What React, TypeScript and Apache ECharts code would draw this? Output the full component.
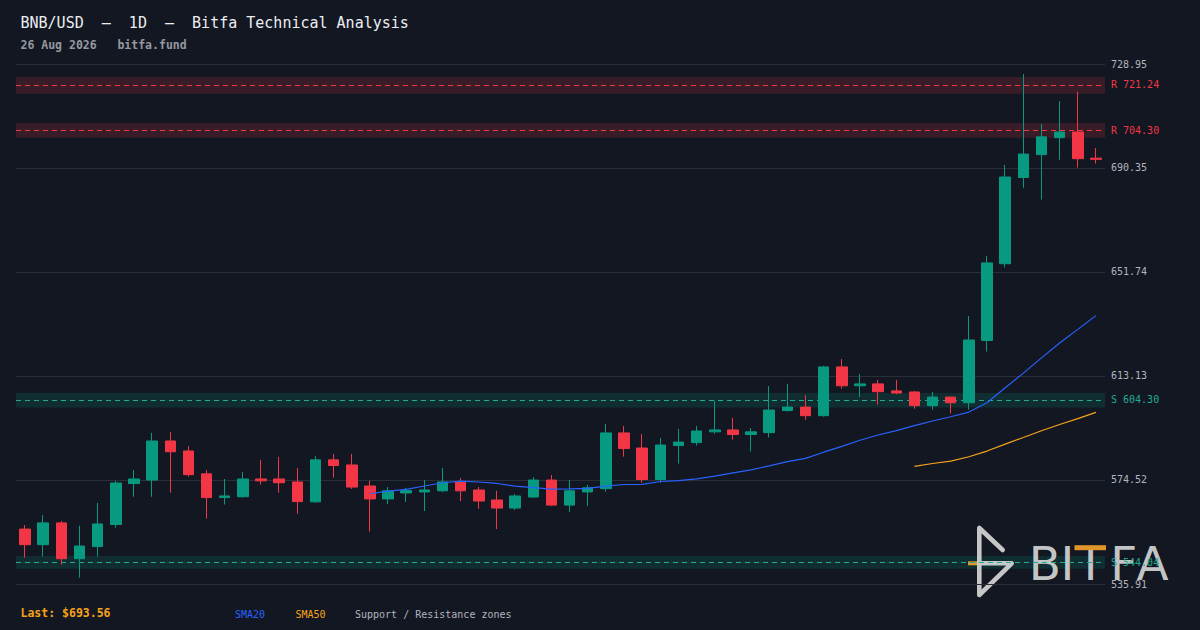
import React, { useEffect, useRef } from "react";
import * as echarts from "echarts";

const categories = [
  "2026-06-28", "2026-06-29", "2026-06-30",
  "2026-07-01", "2026-07-02", "2026-07-03", "2026-07-04", "2026-07-05", "2026-07-06", "2026-07-07",
  "2026-07-08", "2026-07-09", "2026-07-10", "2026-07-11", "2026-07-12", "2026-07-13", "2026-07-14",
  "2026-07-15", "2026-07-16", "2026-07-17", "2026-07-18", "2026-07-19", "2026-07-20", "2026-07-21",
  "2026-07-22", "2026-07-23", "2026-07-24", "2026-07-25", "2026-07-26", "2026-07-27", "2026-07-28",
  "2026-07-29", "2026-07-30", "2026-07-31",
  "2026-08-01", "2026-08-02", "2026-08-03", "2026-08-04", "2026-08-05", "2026-08-06", "2026-08-07",
  "2026-08-08", "2026-08-09", "2026-08-10", "2026-08-11", "2026-08-12", "2026-08-13", "2026-08-14",
  "2026-08-15", "2026-08-16", "2026-08-17", "2026-08-18", "2026-08-19", "2026-08-20", "2026-08-21",
  "2026-08-22", "2026-08-23", "2026-08-24", "2026-08-25", "2026-08-26",
];

const openPrices = [
  556.3, 550.5, 558.6, 545.3, 549.8, 558.0, 573.2, 574.5, 589.0, 585.3,
  576.8, 568.0, 568.3, 574.9, 574.9, 573.8, 566.4, 582.0, 580.1, 572.3,
  567.5, 569.7, 570.1, 570.5, 573.8, 570.8, 567.1, 564.1, 568.2, 574.5,
  565.2, 570.1, 571.3, 592.0, 586.4, 574.7, 587.3, 588.4, 592.4, 593.1,
  591.4, 592.1, 600.3, 601.6, 598.4, 616.5, 609.5, 610.2, 607.6, 607.2,
  602.1, 605.3, 603.2, 626.3, 654.8, 686.8, 695.3, 701.6, 703.7, 694.0,
];
const closePrices = [
  550.5, 558.6, 545.3, 550.0, 558.2, 573.4, 574.9, 589.0, 585.0, 576.5,
  568.0, 568.6, 574.9, 574.2, 573.5, 566.5, 582.0, 579.9, 571.9, 567.5,
  570.5, 570.6, 570.8, 573.8, 570.5, 566.7, 564.1, 568.6, 574.5, 565.2,
  570.5, 571.6, 592.0, 586.2, 574.7, 587.5, 588.6, 592.7, 593.1, 591.4,
  592.4, 600.5, 601.6, 598.4, 616.5, 609.5, 610.2, 607.3, 606.8, 602.1,
  605.3, 603.2, 626.5, 655.1, 687.0, 695.5, 701.9, 703.7, 693.8, 693.56,
];
const lowPrices = [
  545.7, 546.1, 543.1, 538.3, 546.1, 556.8, 568.3, 568.3, 569.8, 575.8,
  560.2, 565.4, 568.0, 572.8, 569.8, 562.0, 566.0, 575.4, 571.2, 555.4,
  565.6, 566.4, 563.0, 570.1, 566.7, 563.8, 556.3, 563.4, 568.0, 564.9,
  562.7, 564.9, 570.2, 583.2, 573.5, 573.5, 580.6, 587.3, 591.7, 589.5,
  585.1, 590.3, 599.9, 596.9, 598.0, 608.4, 605.3, 602.5, 606.4, 601.0,
  600.6, 599.2, 600.6, 622.2, 653.4, 683.0, 678.6, 693.4, 690.5, 692.0,
];
const highPrices = [
  557.8, 561.5, 559.3, 557.5, 566.0, 574.2, 578.2, 592.0, 592.3, 587.1,
  578.2, 574.9, 577.5, 582.0, 583.1, 579.0, 583.4, 584.2, 584.2, 574.2,
  571.9, 571.6, 574.5, 579.0, 575.3, 571.9, 570.5, 569.3, 575.6, 576.4,
  574.5, 572.7, 595.3, 594.6, 591.6, 590.1, 593.5, 594.6, 603.9, 597.6,
  593.8, 609.4, 610.2, 606.1, 616.9, 619.4, 613.9, 611.7, 611.7, 607.6,
  607.2, 605.4, 635.4, 657.7, 691.5, 725.2, 706.7, 715.2, 718.6, 697.8,
];

// SMA values (first value at index 19 / 49)
const sma20Start = 19;
const sma20Values = [
  569.42, 570.42, 571.02, 572.30, 573.49, 574.10, 573.77, 573.23, 572.21, 571.68,
  571.12, 571.24, 571.39, 572.25, 572.85, 572.91, 573.96, 574.29, 574.93, 575.99,
  577.18, 578.28, 579.77, 581.31, 582.54, 584.84, 586.98, 589.29, 591.22, 592.84,
  594.68, 596.42, 598.00, 599.73, 603.17, 608.79, 614.19, 619.85, 625.40, 630.44,
  635.54,
];
const sma50Start = 49;
const sma50Values = [
  579.55, 580.64, 581.53, 583.16, 585.26, 587.84, 590.28, 592.82, 595.11, 597.29, 599.63,
];

const tickValues = [535.91, 574.52, 613.13, 651.74, 690.35, 728.95];

const zoneKinds = ["R", "R", "S", "S"];
const zoneLevels = [721.24, 704.3, 604.3, 544.04];
const zoneLows = [717.9, 701.6, 601.4, 541.6];
const zoneHighs = [724.1, 707.05, 606.8, 546.3];

const lastPrice = 693.56;

const BG = "#131722";
const UP = "#089981";
const DOWN = "#f23645";
const S_LINE = "#22ab94";
const GRID = "#2a2e39";
const AXIS_TEXT = "#b2b5be";
const BLUE = "#2962ff";
const ORANGE = "#f7a21b";
const MONO = '"DejaVu Sans Mono", monospace';
const LOGO = "#d6d6d6";
const LOGO_ORANGE = "#e0962b";

function pad(start: number, values: number[]) {
  const out: (number | null)[] = [];
  for (let i = 0; i < categories.length; i++) {
    out.push(i >= start && i - start < values.length ? values[i - start] : null);
  }
  return out;
}

function buildOption(): any {
  const candles = categories.map((_, i) => [
    openPrices[i],
    closePrices[i],
    lowPrices[i],
    highPrices[i],
  ]);

  const gridLines = tickValues.map((v) => ({
    yAxis: v,
    lineStyle: { color: GRID, type: "solid", width: 1 },
    label: { formatter: v.toFixed(2), color: AXIS_TEXT },
  }));

  const zoneLines = zoneLevels.map((lvl, i) => {
    const c = zoneKinds[i] === "R" ? DOWN : S_LINE;
    return {
      yAxis: lvl,
      lineStyle: { color: c, type: [5, 4], width: 1 },
      label: { formatter: `${zoneKinds[i]} ${lvl.toFixed(2)}`, color: c },
    };
  });

  const zoneAreas = zoneLevels.map((_, i) => [
    {
      yAxis: zoneLows[i],
      itemStyle: {
        color: zoneKinds[i] === "R" ? "rgba(242,54,69,0.17)" : "rgba(8,153,129,0.17)",
      },
    },
    { yAxis: zoneHighs[i] },
  ]);

  const text = (
    x: number,
    y: number,
    t: string,
    fill: string,
    size: number,
    weight: string = "normal"
  ) => ({
    type: "text",
    x,
    y,
    z: 10,
    style: {
      text: t,
      fill,
      fontSize: size,
      fontWeight: weight,
      fontFamily: MONO,
      align: "left",
      verticalAlign: "middle",
    },
  });

  const logoFont = '"DejaVu Sans", sans-serif';
  const letter = (x: number, t: string) => ({
    type: "text",
    z: 1,
    x,
    y: 563.7,
    style: {
      text: t,
      fill: LOGO,
      fontSize: 47,
      fontFamily: logoFont,
      align: "center",
      verticalAlign: "middle",
      opacity: 0.92,
    },
  });

  return {
    animation: false,
    backgroundColor: BG,
    grid: { left: 16, right: 95, top: 64, bottom: 46 },
    xAxis: {
      type: "category",
      data: categories,
      boundaryGap: true,
      show: false,
    },
    yAxis: {
      type: "value",
      min: 535.91,
      max: 728.95,
      show: false,
      splitLine: { show: false },
    },
    graphic: {
      elements: [
        text(20.5, 23, "BNB/USD  —  1D  —  Bitfa Technical Analysis", "#eceef2", 15, "normal"),
        text(20.5, 45, "26 Aug 2026   bitfa.fund", "#9598a1", 11.5, "bold"),
        text(20.5, 613, `Last: $${lastPrice.toFixed(2)}`, ORANGE, 11.5, "bold"),
        text(235, 614.7, "SMA20", BLUE, 10),
        text(295.5, 614.7, "SMA50", ORANGE, 10),
        text(355, 614.7, "Support / Resistance zones", AXIS_TEXT, 10),
        {
          type: "group",
          z: 1,
          children: [
            {
              type: "polyline",
              z: 1,
              shape: {
                points: [
                  [1002.7, 550],
                  [979.3, 528],
                  [979.3, 595],
                  [1011.7, 563.3],
                  [979.3, 563.3],
                ],
              },
              style: {
                stroke: LOGO,
                lineWidth: 4.6,
                lineCap: "round",
                lineJoin: "round",
                fill: null,
                opacity: 0.92,
              },
            },
            {
              type: "rect",
              z: 1,
              shape: { x: 968, y: 561.3, width: 9, height: 4 },
              style: { fill: LOGO_ORANGE },
            },
            letter(1044.8, "B"),
            letter(1067.5, "I"),
            letter(1090.5, "T"),
            letter(1123.7, "F"),
            letter(1152.5, "A"),
            {
              type: "rect",
              z: 2,
              shape: { x: 1074.5, y: 545.2, width: 31.5, height: 5 },
              style: { fill: LOGO_ORANGE },
            },
          ],
        },
      ],
    },
    series: [
      {
        type: "candlestick",
        name: "BNB/USD",
        data: candles,
        barWidth: 11,
        z: 2,
        itemStyle: {
          color: UP,
          color0: DOWN,
          borderColor: UP,
          borderColor0: DOWN,
          borderWidth: 1,
        },
        markArea: {
          silent: true,
          z: 0,
          data: zoneAreas,
        },
        markLine: {
          silent: true,
          z: 1.5,
          symbol: ["none", "none"],
          label: {
            show: true,
            position: "end",
            distance: 6,
            fontFamily: MONO,
            fontSize: 10,
          },
          emphasis: { disabled: true },
          data: [...gridLines, ...zoneLines],
        },
      },
      {
        type: "line",
        name: "SMA20",
        data: pad(sma20Start, sma20Values),
        symbol: "none",
        z: 3,
        lineStyle: { color: BLUE, width: 1.2 },
      },
      {
        type: "line",
        name: "SMA50",
        data: pad(sma50Start, sma50Values),
        symbol: "none",
        z: 3,
        lineStyle: { color: ORANGE, width: 1.2 },
      },
    ],
  };
}

export default function App() {
  const ref = useRef<HTMLDivElement>(null);
  useEffect(() => {
    document.body.style.margin = "0";
    document.body.style.background = BG;
    const chart = echarts.init(ref.current as HTMLDivElement, null, { renderer: "svg" });
    chart.setOption(buildOption());
    return () => chart.dispose();
  }, []);
  return <div ref={ref} style={{ width: 1200, height: 630 }} />;
}
